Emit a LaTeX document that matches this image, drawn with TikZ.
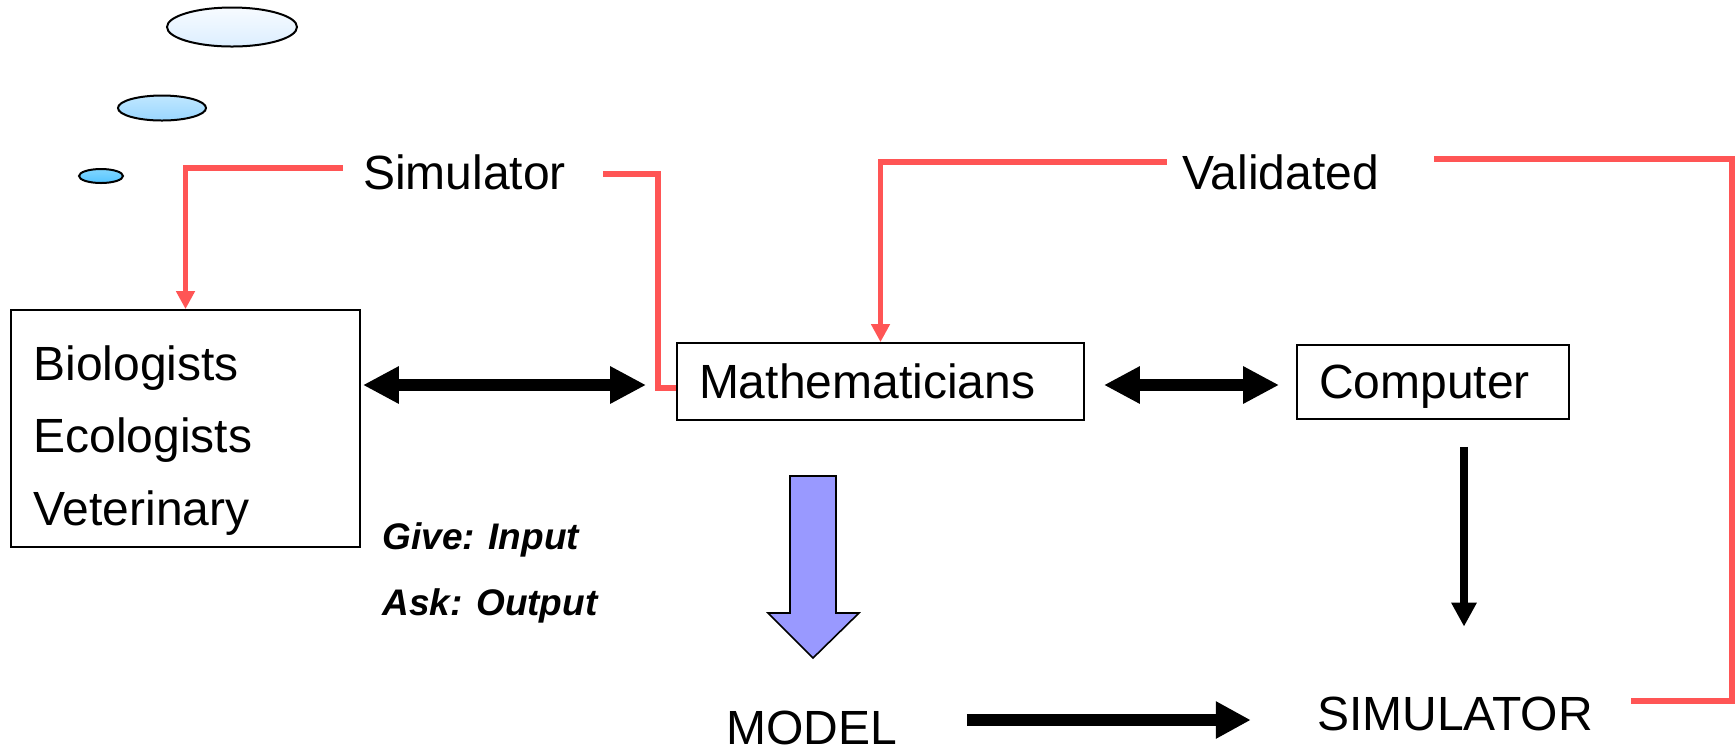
\documentclass[tikz,border=0pt]{standalone}
\usepackage{fontspec}
\setmainfont{Liberation Sans}
\usetikzlibrary{calc, arrows.meta, shapes.geometric, positioning}
\definecolor{linkred}{HTML}{FF5555}
\definecolor{modelblue}{HTML}{9999FF}
\definecolor{skyA}{HTML}{F7FBFF}
\definecolor{skyB}{HTML}{DCEEFF}
\definecolor{skyC}{HTML}{C0E7FF}
\definecolor{skyD}{HTML}{99D6FF}
\definecolor{skyE}{HTML}{80D6FF}
\definecolor{skyF}{HTML}{55C4FF}

\begin{document}
\begin{tikzpicture}[x=0.5pt, y=-0.5pt,
  txt/.style={inner sep=0pt, font=\fontsize{24pt}{28pt}\selectfont},
  note/.style={inner sep=0pt, anchor=west, font=\fontsize{18.5pt}{22pt}\selectfont\bfseries\itshape},
  box/.style={draw, line width=0.9pt, inner xsep=11pt, text depth=0pt, align=left, font=\fontsize{24pt}{28pt}\selectfont},
  bubble/.style={draw, line width=1pt},
  redline/.style={draw=linkred, line width=2.8pt},
  redarrow/.style={redline, -{Triangle[length=9pt,width=9pt]}},
  twoway/.style={line width=6pt, arrows={Triangle[length=18pt,width=17.5pt]-Triangle[length=18pt,width=17.5pt]}},
  oneway/.style={line width=6pt, -{Triangle[length=17.5pt,width=17.5pt]}},
  thinway/.style={line width=3.8pt, -{Triangle[length=12pt,width=12pt]}}]
\useasboundingbox (0,0) rectangle (1735,752);
% bubbles
\draw[bubble, top color=skyA, bottom color=skyB] (232,27) ellipse [x radius=65, y radius=19.5];
\draw[bubble, top color=skyC, bottom color=skyD] (162,108) ellipse [x radius=44, y radius=12.5];
\draw[bubble, top color=skyE, bottom color=skyF] (101,176) ellipse [x radius=22, y radius=7];
% people
\node[box, minimum width=174.5pt, minimum height=118.5pt] (bio) at (185.5,428.5) {};
\node[txt, anchor=base west] (bio1) at (33,380) {Biologists};
\node[txt, anchor=base west] (bio2) at (33,452) {Ecologists};
\node[txt, anchor=base west] (bio3) at (33,525) {Veterinary};
\node[box, text width=181.5pt, minimum height=38.5pt] (math) at (880.5,381.5) {Mathematicians};
\node[box, text width=114pt, minimum height=37pt] (comp) at (1433,382) {Computer};
% free texts
\node[txt] (simtop) at (464.5,172) {Simulator};
\node[txt] (valtop) at (1280.5,172) {Validated};
\node[txt] (model) at (812,728) {MODEL};
\node[txt] (simbot) at (1455,714) {SIMULATOR};
\node[note] (give) at (382,540) {Give: Input};
\node[note] (ask) at (382,606) {Ask: Output};
% block arrow
\draw[line width=0.8pt, fill=modelblue] (790,476) -- (836,476) -- (836,613) -- (859,613) -- (813,658) -- (768,613) -- (790,613) -- cycle;
% black arrows
\draw[twoway] ($(bio.east |- math.west)+(2,3.5)$) -- ($(math.west)+(-30,3.5)$);
\draw[twoway] ($(math.east)+(19,3.5)$) -- ($(comp.west)+(-17,3)$);
\draw[thinway] ($(comp.south)+(31,27)$) -- ($(simbot.north)+(9,-70)$);
\draw[oneway] ($(model.east)+(69,-8)$) -- ($(simbot.west)+(-66,6)$);
% red links
\draw[redarrow] ($(simtop.west)+(-20,-4)$) -| (bio.north);
\draw[redline] ($(simtop.east)+(37,2)$) -- ++(55,0) |- ($(math.west)+(0,6.5)$);
\draw[redarrow] ($(valtop.west)+(-15,-10)$) -| (math.north);
\draw[redline] ($(valtop.east)+(55,-13)$) -- ++(298,0) |- ($(simbot.east)+(38,-13)$);
\end{tikzpicture}
\end{document}
